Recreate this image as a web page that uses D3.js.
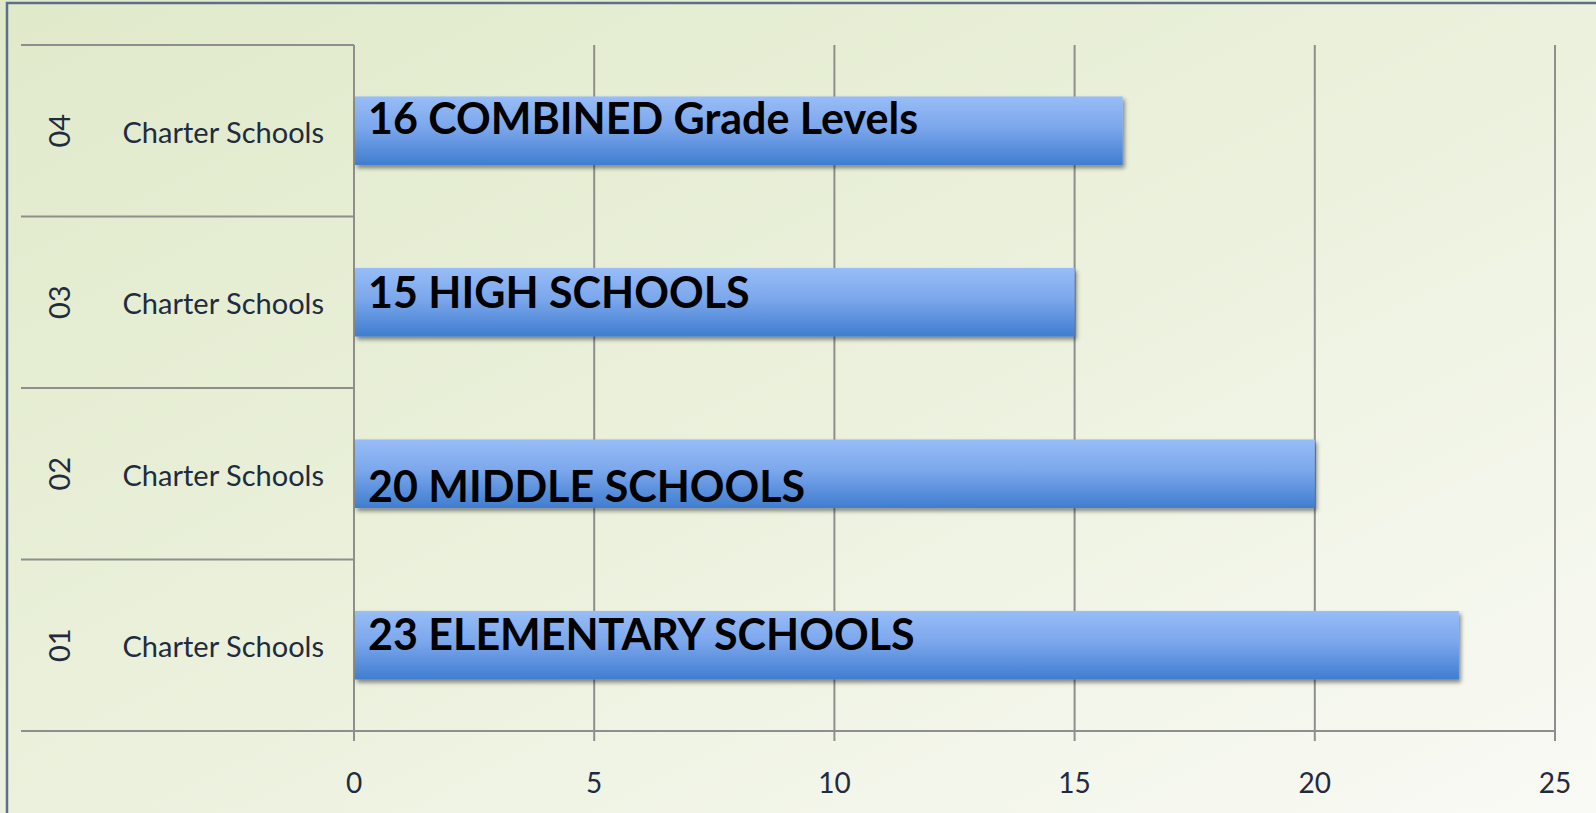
<!DOCTYPE html>
<html>
<head>
<meta charset="utf-8">
<script src="https://cdn.jsdelivr.net/npm/d3@7"></script>
<style>
  html, body { margin: 0; padding: 0; overflow: hidden; background: #eef2e2; }
  svg { display: block; }
</style>
</head>
<body>
<svg id="chart" width="1596" height="813"></svg>
<script>
// ---- data ----
const categories = ["01", "02", "03", "04"];
const groupLabels = ["Charter Schools", "Charter Schools", "Charter Schools", "Charter Schools"];
const values = [23, 20, 15, 16];
const barLabels = ["23 ELEMENTARY SCHOOLS", "20 MIDDLE SCHOOLS", "15 HIGH SCHOOLS", "16 COMBINED Grade Levels"];
const xTicks = [0, 5, 10, 15, 20, 25];

// ---- layout ----
const W = 1596, H = 813;
const plot = { left: 354, right: 1555, top: 45, bottom: 731 };
const catLeft = 21;
const fontFamily = "Lato, 'Open Sans', sans-serif";
const labelBaselineOffset = { "01": 39, "02": 63, "03": 40, "04": 38 };

const svg = d3.select("#chart");
const defs = svg.append("defs");

const bg = defs.append("linearGradient").attr("id", "bg")
  .attr("x1", "0%").attr("y1", "0%").attr("x2", "100%").attr("y2", "100%");
bg.append("stop").attr("offset", "0%").attr("stop-color", "#e0eaca");
bg.append("stop").attr("offset", "45%").attr("stop-color", "#eaf0da");
bg.append("stop").attr("offset", "100%").attr("stop-color", "#f9faf5");

const barGrad = defs.append("linearGradient").attr("id", "barGrad")
  .attr("x1", "0").attr("y1", "0").attr("x2", "0").attr("y2", "1");
barGrad.append("stop").attr("offset", "0%").attr("stop-color", "#98bdf7");
barGrad.append("stop").attr("offset", "45%").attr("stop-color", "#7ca7ec");
barGrad.append("stop").attr("offset", "100%").attr("stop-color", "#3f7dd0");

const shadow = defs.append("filter").attr("id", "shadow")
  .attr("x", "-5%").attr("y", "-20%").attr("width", "110%").attr("height", "150%");
shadow.append("feDropShadow").attr("dx", 2).attr("dy", 3).attr("stdDeviation", 2.2)
  .attr("flood-color", "#000").attr("flood-opacity", 0.45);

svg.append("rect").attr("x", 0).attr("y", 0).attr("width", W).attr("height", H).attr("fill", "url(#bg)");

// outer frame
svg.append("path").attr("d", `M7,${H} L7,3 L${W},3`)
  .attr("fill", "none").attr("stroke", "#5b6f88").attr("stroke-width", 2.5);

// ---- scales ----
const x = d3.scaleLinear().domain([0, 25]).range([plot.left, plot.right]);
const y = d3.scaleBand().domain(categories.slice().reverse())
  .range([plot.top, plot.bottom]).paddingInner(0.6).paddingOuter(0.3);
const step = y.step();
const bandTop = c => y(c) - y.paddingOuter() * step;

const gridColor = "#8e8e8e";

// vertical gridlines + ticks
svg.append("g").selectAll("line").data(xTicks).join("line")
  .attr("x1", d => x(d)).attr("x2", d => x(d))
  .attr("y1", plot.top).attr("y2", plot.bottom + 10)
  .attr("stroke", gridColor).attr("stroke-width", 2);

// category row separators
const sepYs = categories.map(c => bandTop(c)).concat([plot.top]);
svg.append("g").selectAll("line").data(sepYs).join("line")
  .attr("x1", catLeft).attr("x2", plot.left)
  .attr("y1", d => d).attr("y2", d => d)
  .attr("stroke", gridColor).attr("stroke-width", 2);

// bottom axis line
svg.append("line").attr("x1", catLeft).attr("x2", plot.right)
  .attr("y1", plot.bottom).attr("y2", plot.bottom)
  .attr("stroke", gridColor).attr("stroke-width", 2);

// x tick labels
svg.append("g").selectAll("text").data(xTicks).join("text")
  .attr("x", d => x(d)).attr("y", 793)
  .attr("text-anchor", "middle")
  .attr("font-family", fontFamily).attr("font-size", 28)
  .attr("fill", "#1f2b3e")
  .text(d => d);

// category labels
const catG = svg.append("g");
categories.forEach((c, i) => {
  const cy = y(c) + y.bandwidth() / 2;
  catG.append("text")
    .attr("transform", `translate(70,${cy}) rotate(-90)`)
    .attr("text-anchor", "middle")
    .attr("font-family", fontFamily).attr("font-size", 29)
    .attr("fill", "#1f2b3e")
    .text(c);
  catG.append("text")
    .attr("x", 324).attr("y", cy + 12)
    .attr("text-anchor", "end")
    .attr("font-family", fontFamily).attr("font-size", 29)
    .attr("fill", "#1f2b3e")
    .text(groupLabels[i]);
});

// bars
svg.append("g").selectAll("rect").data(categories).join("rect")
  .attr("x", x(0) + 1)
  .attr("y", c => y(c))
  .attr("width", (c, i) => x(values[i]) - x(0) - 1)
  .attr("height", y.bandwidth())
  .attr("fill", "url(#barGrad)")
  .attr("filter", "url(#shadow)");

// bar labels
svg.append("g").selectAll("text").data(categories).join("text")
  .attr("x", x(0) + 14)
  .attr("y", c => y(c) + labelBaselineOffset[c])
  .attr("font-family", fontFamily).attr("font-weight", "bold").attr("font-size", 43)
  .attr("fill", "#000")
  .text((c, i) => barLabels[i]);
</script>
</body>
</html>
